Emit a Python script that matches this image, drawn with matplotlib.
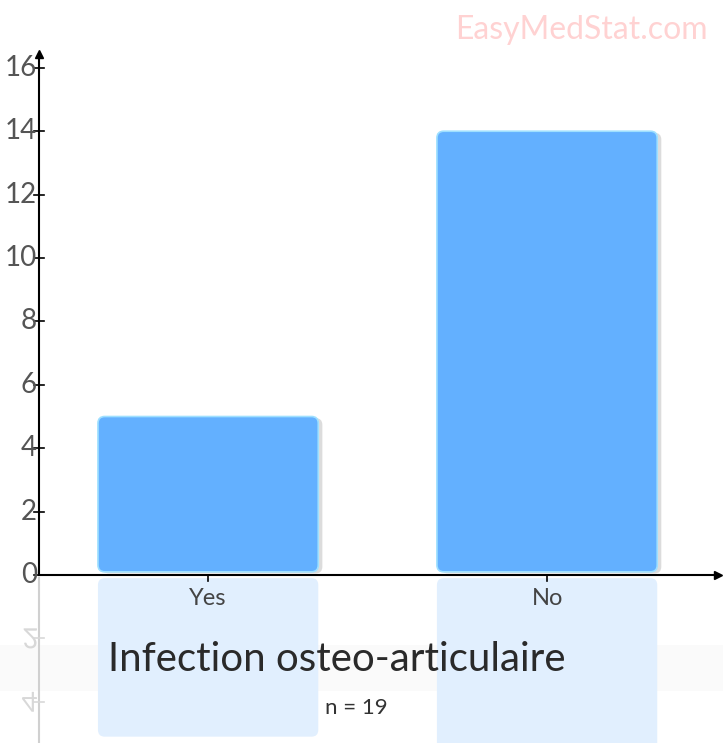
import matplotlib.pyplot as plt
import numpy as np
from matplotlib.patches import FancyBboxPatch, PathPatch
from matplotlib.textpath import TextPath
from matplotlib.font_manager import FontProperties
from matplotlib.transforms import Affine2D

categories = ['Yes', 'No']
counts = [5, 14]
yticks = [0, 2, 4, 6, 8, 10, 12, 14, 16]
title = 'Infection osteo-articulaire'
subtitle = 'n = 19'

FONT = 'Lato'
bar_color = '#63b0ff'
refl_color = '#e1effe'

fig = plt.figure(figsize=(7.23, 7.43), dpi=100)
ax = fig.add_axes([0, 0, 1, 1])
ax.set_xlim(-0.614, 1.519)
ax.set_ylim(-5.30, 18.14)
ax.axis('off')

# px -> data aspect for rounded corners
asp = (1 / 31.7) / (1 / 339.0)
w = 0.65
x = np.arange(len(categories))

# faint grey band behind the title
ax.axhspan(-3.65, -2.2, color='#fafafa', lw=0, zorder=0)

for xi, v in zip(x, counts):
    # shadow
    ax.add_patch(FancyBboxPatch((xi - w / 2 + 0.012, 0.05), w, v - 0.1,
                                boxstyle='round,pad=0,rounding_size=0.02',
                                mutation_aspect=asp, fc='#dcdcdc', ec='none', zorder=1))
    ax.add_patch(FancyBboxPatch((xi - w / 2, 0.1), w, v - 0.1,
                                boxstyle='round,pad=0,rounding_size=0.02',
                                mutation_aspect=asp, fc=bar_color, ec='#9fe0ff',
                                lw=1.2, zorder=2))
    # reflection
    ax.add_patch(FancyBboxPatch((xi - w / 2, -0.1 - v), w, v,
                                boxstyle='round,pad=0,rounding_size=0.02',
                                mutation_aspect=asp, fc=refl_color, ec='none', zorder=1))

# axes
ax.plot([-0.5, -0.5], [0, 16.45], color='black', lw=1.5, zorder=3)
ax.plot([-0.5, 1.51], [0, 0], color='black', lw=1.5, zorder=3)
ax.plot([-0.5], [16.45], marker='^', color='black', ms=6, zorder=3)
ax.plot([1.505], [0], marker='>', color='black', ms=6, zorder=3)
ax.plot([-0.5, -0.5], [-0.1, -5.3], color='#d0d0d0', lw=1.5, zorder=0.5)

for t in yticks:
    ax.plot([-0.515, -0.485], [t, t], color='black', lw=1.2, zorder=3)
    ax.text(-0.505, t, str(t), ha='right', va='center', fontsize=20,
            family=FONT, color='#555555', zorder=4)

# mirrored tick labels under the axis
fp = FontProperties(family=FONT, size=20)
for t in [2, 4]:
    tp = TextPath((0, 0), str(t), prop=fp)
    ext = tp.get_extents()
    px, py = ax.transData.transform((-0.505, -t))
    tr = (Affine2D().translate(-ext.x1, -(ext.y0 + ext.y1) / 2)
          .scale(100 / 72, -100 / 72).translate(px, py))
    ax.add_patch(PathPatch(tp, transform=tr, fc='#d8d8d8', ec='none', zorder=0.5))
    ax.plot([-0.515, -0.485], [-t, -t], color='#d8d8d8', lw=1.2, zorder=0.5)

for xi, c in zip(x, categories):
    ax.plot([xi, xi], [0, -0.2], color='black', lw=1.2, zorder=3)
    ax.text(xi, -0.4, c, ha='center', va='top', fontsize=17,
            family=FONT, color='#444444', zorder=4)

ax.text(0.38, -2.65, title, ha='center', va='center', fontsize=29,
        family=FONT, color='#2a2a2a', zorder=4)
ax.text(0.437, -4.2, subtitle, ha='center', va='center', fontsize=16,
        family=FONT, color='#333333', zorder=4)
ax.text(0.979, 0.96, 'EasyMedStat.com', transform=fig.transFigure, ha='right',
        va='center', fontsize=23, family=FONT, color='#ffd2d2')

fig.savefig('out.png', dpi=100)
